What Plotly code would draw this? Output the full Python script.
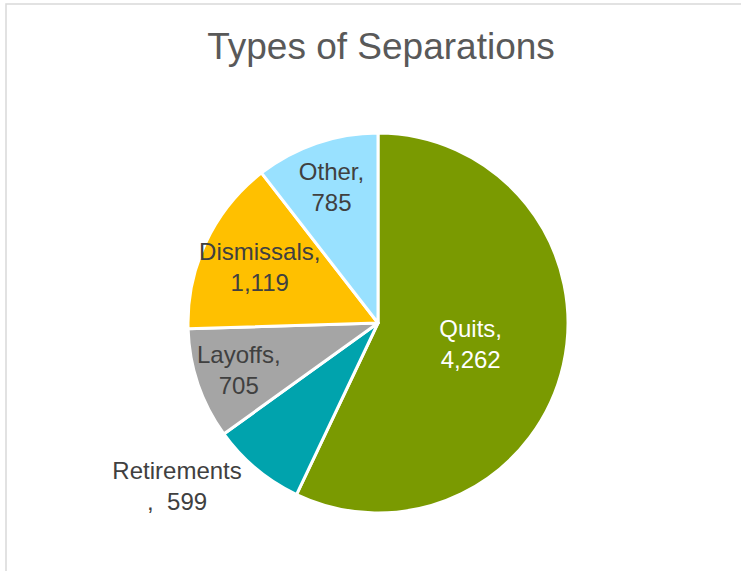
import plotly.graph_objects as go

labels = ["Quits", "Retirements", "Layoffs", "Dismissals", "Other"]
values = [4262, 599, 705, 1119, 785]
colors = ["#7A9A01", "#00A3AD", "#A5A5A5", "#FFC000", "#99E1FF"]
label_colors = ["#FFFFFF", "#404040", "#404040", "#404040", "#404040"]
positions = ["inside", "outside", "inside", "inside", "inside"]
templates = ["%{label},<br>%{value:,}", "%{label}<br>,  %{value:,}",
             "%{label},<br>%{value:,}", "%{label},<br>%{value:,}",
             "%{label},<br>%{value:,}"]

W, H = 741, 571

fig = go.Figure(go.Pie(
    labels=labels,
    values=values,
    sort=False,
    direction="clockwise",
    rotation=0,
    marker=dict(colors=colors, line=dict(color="white", width=3)),
    texttemplate=templates,
    textposition=positions,
    insidetextorientation="horizontal",
    textfont=dict(family="Liberation Sans, Arial", size=24, color=label_colors),
    outsidetextfont=dict(family="Liberation Sans, Arial", size=24, color="#404040"),
    hoverinfo="label+value",
    showlegend=False,
    domain=dict(x=[188 / W, 568 / W], y=[1 - 513 / H, 1 - 133 / H]),
))

fig.update_layout(
    width=W, height=H,
    margin=dict(l=0, r=0, t=0, b=0),
    paper_bgcolor="white",
    title=dict(text="Types of Separations", x=381 / W, xanchor="center",
               y=1 - 46 / H, yanchor="middle",
               font=dict(family="Liberation Sans, Arial", size=37, color="#595959")),
    uniformtext=dict(minsize=24, mode="show"),
    shapes=[dict(type="rect", xref="paper", yref="paper",
                 x0=6 / W, x1=1.05, y0=-0.05, y1=1 - 4 / H,
                 line=dict(color="#D9D9D9", width=1.5))],
)

# drop the page's default body margin so the figure sits at the window corner
fig.write_html("out.html", config={"displayModeBar": False},
               post_script="document.body.style.margin='0';")
